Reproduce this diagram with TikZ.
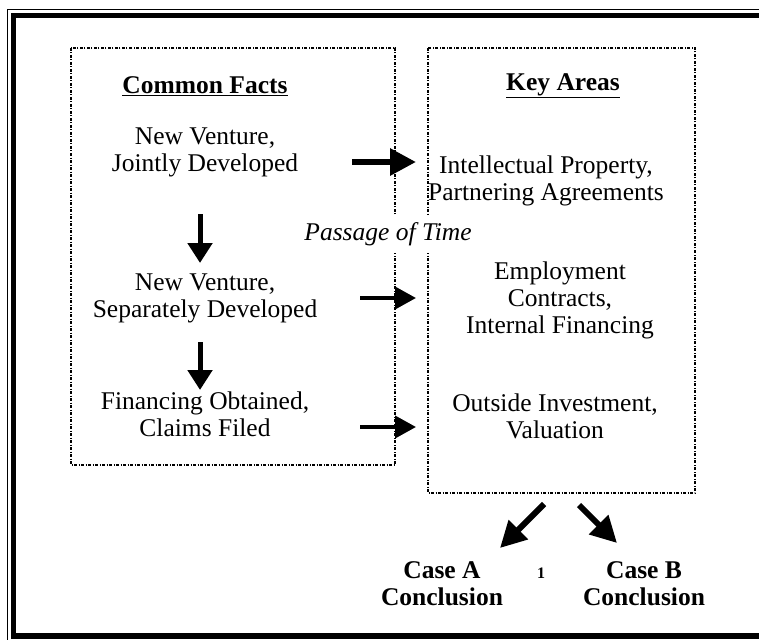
\documentclass[tikz,border=0pt]{standalone}
\usepackage{fontspec}
\setmainfont{Liberation Serif}
\usetikzlibrary{arrows.meta}
\newcommand{\bigtext}{\fontsize{25.5}{27}\selectfont}

\tikzset{
  panel/.style={draw, line width=1.3pt, dash pattern=on 3pt off 1.5pt on 1pt off 1.5pt},
  txt/.style={align=center, inner sep=0pt, font=\bigtext},
  headtxt/.style={align=center, inner sep=0pt, font=\bigtext\bfseries},
  fat/.style={line width=6pt, -{Triangle[length=26pt,width=26pt]}},
  slim/.style={line width=4pt, -{Triangle[length=21pt,width=22pt]}},
  down/.style={line width=5pt, -{Triangle[length=20pt,width=24pt]}}
}

\begin{document}
\begin{tikzpicture}[x=1pt,y=-1pt]
\useasboundingbox (0,0) rectangle (759,639);

% double frame, running off the page on the right and bottom
\begin{scope}
  \clip (0,0) rectangle (759,639);
  \draw[line width=1.5pt] (790,9.5) -- (7.5,9.5) -- (7.5,660);
  \draw[line width=5.5pt] (790,15.5) -- (13.5,15.5) -- (13.5,636) -- (790,636);
\end{scope}

% the two panels
\draw[panel] (71,48) rectangle (395,465);
\draw[panel] (428,48) rectangle (695,493);

\node[headtxt] (facts) at (205,86) {\underline{Common Facts}};
\node[headtxt] (areas) at (563,86) {\underline{Key Areas}};

\node[txt] (f1) at (205,152) {New Venture,\\Jointly Developed};
\node[txt] (f2) at (205,298) {New Venture,\\Separately Developed};
\node[txt] (f3) at (205,414) {Financing Obtained,\\Claims Filed};

\node[txt] (a1) at (546,181) {Intellectual Property,\\Partnering Agreements};
\node[txt] (a2) at (560,300) {Employment\\Contracts,\\Internal Financing};
\node[txt] (a3) at (555,416) {Outside Investment,\\Valuation};

% label over the panel edge
\node[txt, font=\bigtext\itshape, fill=white, inner xsep=2pt, inner ysep=7pt] (time) at (388,234) {Passage of Time};

\node[headtxt] (caseA) at (442,584) {Case A\\Conclusion};
\node[headtxt] (caseB) at (644,584) {Case B\\Conclusion};
\node[inner sep=0pt, font=\fontsize{16}{18}\selectfont\bfseries] (note) at (541,573) {1};

% arrow ends
\coordinate (r1s) at (352,162); \coordinate (r1e) at (416,162);
\coordinate (r2s) at (360,298); \coordinate (r2e) at (416,298);
\coordinate (r3s) at (360,427); \coordinate (r3e) at (416,427);
\coordinate (d1s) at (200,214); \coordinate (d1e) at (200,263);
\coordinate (d2s) at (200,342); \coordinate (d2e) at (200,390);
\coordinate (cAs) at (544,504); \coordinate (cAe) at (500,548);
\coordinate (cBs) at (579,505); \coordinate (cBe) at (617,543);

\draw[fat] (r1s) -- (r1e);
\draw[slim] (r2s) -- (r2e);
\draw[slim] (r3s) -- (r3e);
\draw[down] (d1s) -- (d1e);
\draw[down] (d2s) -- (d2e);
\draw[fat] (cAs) -- (cAe);
\draw[fat] (cBs) -- (cBe);
\end{tikzpicture}
\end{document}
